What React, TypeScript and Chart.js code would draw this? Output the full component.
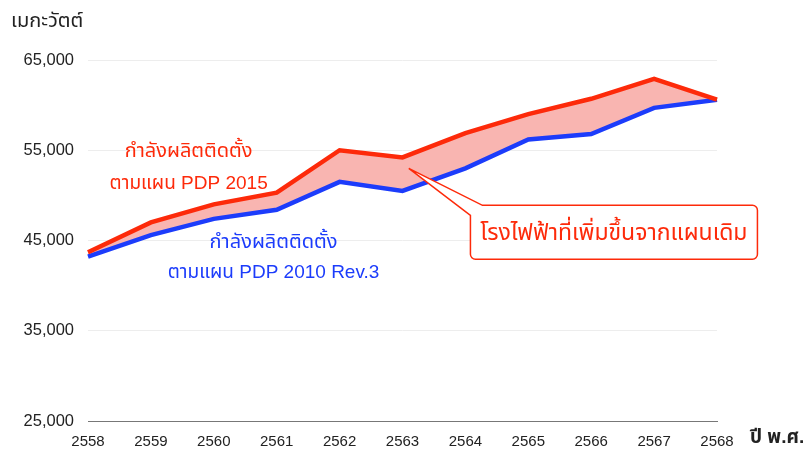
import React, { useEffect, useRef } from "react";
import { Chart, registerables } from "chart.js";

Chart.register(...registerables);

const years = ["2558", "2559", "2560", "2561", "2562", "2563", "2564", "2565", "2566", "2567", "2568"];
const pdp2015 = [43700, 47000, 49000, 50300, 55000, 54200, 56900, 59000, 60700, 62900, 60600];
const pdp2010 = [43200, 45600, 47400, 48400, 51500, 50500, 53000, 56200, 56800, 59700, 60600];
const yTicks = [25000, 35000, 45000, 55000, 65000];

const RED = "#fd2a0a";
const BLUE = "#1c3cfb";
const FILL = "#f9b5b1";
const FONT = 'Helvetica, Arial, "Liberation Sans", "Noto Sans Thai", "Noto Sans", sans-serif';

const labelsPlugin = {
  id: "labels",
  afterDatasetsDraw(chart: any) {
    const { ctx, scales } = chart;
    const xs = scales.x;
    const ys = scales.y;
    ctx.save();
    // axis titles
    ctx.fillStyle = "#222";
    ctx.font = `20px ${FONT}`;
    ctx.textAlign = "left";
    ctx.textBaseline = "middle";
    ctx.fillText("เมกะวัตต์", 11, 21);
    ctx.font = `bold 19px ${FONT}`;
    ctx.fillText("ปี พ.ศ.", 750, xs.bottom - 12);

    // series labels
    ctx.textAlign = "center";
    ctx.fillStyle = RED;
    const rx = xs.getPixelForValue(1.6);
    ctx.font = `20px ${FONT}`;
    ctx.fillText("กำลังผลิตติดตั้ง", rx, ys.getPixelForValue(55000) + 1);
    ctx.font = `19px ${FONT}`;
    ctx.fillText("ตามแผน PDP 2015", rx, ys.getPixelForValue(51300));
    ctx.fillStyle = BLUE;
    const bx = xs.getPixelForValue(2.95);
    ctx.font = `20px ${FONT}`;
    ctx.fillText("กำลังผลิตติดตั้ง", bx, ys.getPixelForValue(44800));
    ctx.font = `19px ${FONT}`;
    ctx.fillText("ตามแผน PDP 2010 Rev.3", bx, ys.getPixelForValue(41400));

    // callout
    const tipX = xs.getPixelForValue(5.1);
    const tipY = ys.getPixelForValue(53000);
    const left = xs.getPixelForValue(6.08);
    const right = left + 287;
    const top = ys.getPixelForValue(48900);
    const bottom = top + 54;
    const r = 5;
    ctx.beginPath();
    ctx.moveTo(left + 12, top);
    ctx.lineTo(right - r, top);
    ctx.arcTo(right, top, right, top + r, r);
    ctx.lineTo(right, bottom - r);
    ctx.arcTo(right, bottom, right - r, bottom, r);
    ctx.lineTo(left + r, bottom);
    ctx.arcTo(left, bottom, left, bottom - r, r);
    ctx.lineTo(left, top + 10);
    ctx.lineTo(tipX, tipY);
    ctx.closePath();
    ctx.fillStyle = "#fff";
    ctx.fill();
    ctx.strokeStyle = RED;
    ctx.lineWidth = 1.5;
    ctx.stroke();
    ctx.fillStyle = RED;
    ctx.font = `23px ${FONT}`;
    ctx.fillText("โรงไฟฟ้าที่เพิ่มขึ้นจากแผนเดิม", (left + right) / 2, (top + bottom) / 2 + 1);
    ctx.restore();
  },
};

export default function App() {
  const ref = useRef<HTMLCanvasElement | null>(null);
  useEffect(() => {
    if (!ref.current) return;
    const chart = new Chart(ref.current, {
      type: "line",
      data: {
        labels: years,
        datasets: [
          {
            label: "PDP 2015",
            data: pdp2015,
            borderColor: RED,
            backgroundColor: FILL,
            borderWidth: 4.5,
            pointRadius: 0,
            tension: 0,
            fill: "+1",
          },
          {
            label: "PDP 2010 Rev.3",
            data: pdp2010,
            borderColor: BLUE,
            borderWidth: 4.5,
            pointRadius: 0,
            tension: 0,
            fill: false,
          },
        ],
      },
      options: {
        animation: false,
        responsive: false,
        maintainAspectRatio: false,
        layout: { padding: { left: 8, right: 93, top: 60, bottom: 0 } },
        plugins: {
          legend: { display: false },
          tooltip: { enabled: false },
          filler: { drawTime: "beforeDatasetsDraw" },
        },
        scales: {
          x: {
            type: "category",
            offset: false,
            grid: { display: false, drawTicks: false },
            border: { display: true, color: "#777", width: 1 },
            ticks: {
              color: "#222",
              font: { size: 15, family: FONT },
              padding: 12,
              maxRotation: 0,
              autoSkip: false,
            },
            afterFit: (s: any) => {
              s.height = 29;
            },
          },
          y: {
            min: 25000,
            max: 65000,
            afterBuildTicks: (s: any) => {
              s.ticks = yTicks.map((v) => ({ value: v }));
            },
            grid: { color: "#ededed", drawTicks: false },
            border: { display: false },
            ticks: {
              color: "#222",
              font: { size: 16.5, family: FONT },
              padding: 14,
              callback: (v: any) => Number(v).toLocaleString("en-US"),
            },
            afterFit: (s: any) => {
              s.width = 80;
            },
          },
        },
      },
      plugins: [labelsPlugin],
    });
    return () => chart.destroy();
  }, []);
  return (
    <div style={{ position: "fixed", left: 0, top: 0, width: 810, height: 450, background: "#fff" }}>
      <canvas ref={ref} width={810} height={450} style={{ width: 810, height: 450, display: "block" }} />
    </div>
  );
}
